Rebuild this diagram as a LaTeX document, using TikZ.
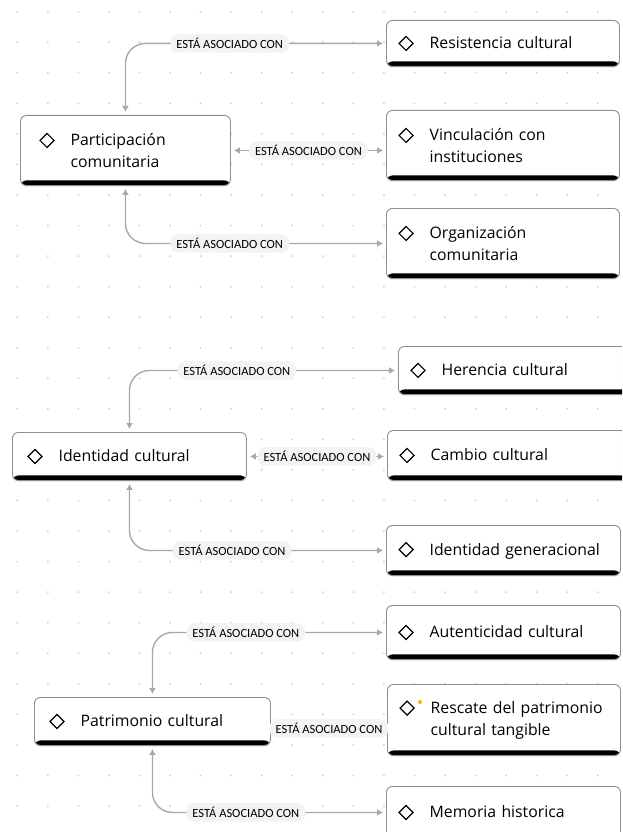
\documentclass[tikz,border=0pt]{standalone}
\usepackage{fontspec}
\setmainfont{Open Sans}
\newfontfamily\labelfont{Carlito}
\usetikzlibrary{arrows.meta, shadows}

\definecolor{dotgrey}{HTML}{D4D4D4}
\definecolor{linkgrey}{HTML}{A8A8A8}
\definecolor{edgegrey}{HTML}{8E8E8E}
\definecolor{pillgrey}{HTML}{F3F3F3}
\definecolor{markyellow}{HTML}{F2B705}

% small diamond icon in front of each concept
\newcommand{\dmd}{\tikz[baseline=-5.5pt]\draw[sharp corners, line width=1.2pt, line join=miter] (0pt,7pt) -- (7pt,0pt) -- (0pt,-7pt) -- (-7pt,0pt) -- cycle;}

\begin{document}
\begin{tikzpicture}[x=1pt, y=-1pt,
    concept/.style={draw=edgegrey, line width=0.9pt, fill=white, rounded corners=6pt,
      anchor=north west, align=left, inner xsep=#1, inner ysep=0pt,
      font=\fontsize{15.8}{22}\selectfont,
      drop shadow={opacity=0.15, shadow xshift=0pt, shadow yshift=-1.5pt},
      path picture={\fill[black] ([yshift=-1pt]path picture bounding box.south west)
        rectangle ([yshift=5pt]path picture bounding box.south east);}},
    concept/.default=12pt,
    link/.style={draw=linkgrey, line width=1.4pt, rounded corners=20pt,
      shorten <=3pt, shorten >=3pt},
    tips/.style={{Latex[length=6pt,width=7pt]}-{Latex[length=6pt,width=7pt]}},
    pill/.style={fill=pillgrey, rounded corners=8pt, inner xsep=6pt, inner ysep=4pt,
      text=black, font=\labelfont\fontsize{12.5}{13}\selectfont}]

    \path[use as bounding box] (0,0) rectangle (622,832);
    \clip (0,0) rectangle (622,832);

    % dotted background
    \foreach \i in {0,...,19}
      \foreach \j in {0,...,26}
        \fill[dotgrey] (17.3+30.55*\i, 11.7+30.55*\j) circle (1.1pt);

    % first group
    \node[concept=19pt, text width=172pt, minimum height=70pt] (pc) at (20,115)
      {\dmd\hspace{16pt}\parbox[t]{135pt}{Participación\\comunitaria}};
    \node[concept, text width=209pt, minimum height=46pt] (res) at (386,20)
      {\dmd\hspace{16pt}Resistencia cultural};
    \node[concept, text width=209pt, minimum height=70pt] (vin) at (386,110)
      {\dmd\hspace{16pt}\parbox[t]{170pt}{Vinculación con\\instituciones}};
    \node[concept, text width=209pt, minimum height=70pt] (org) at (386,208)
      {\dmd\hspace{16pt}\parbox[t]{170pt}{Organización\\comunitaria}};

    \draw[link, tips] (pc.north) |- node[pill, pos=0.7] {ESTÁ ASOCIADO CON} (res.west);
    \draw[link, tips] (pc.east) -- node[pill] {ESTÁ ASOCIADO CON} (pc.east -| vin.west);
    \draw[link, tips] (pc.south) |- node[pill, pos=0.7] {ESTÁ ASOCIADO CON} (org.west);

    % second group
    \node[concept=15pt, text width=204pt, minimum height=48pt] (id) at (12,432)
      {\dmd\hspace{16pt}Identidad cultural};
    \node[concept, text width=216pt, minimum height=48pt] (her) at (398,346)
      {\dmd\hspace{16pt}Herencia cultural};
    \node[concept, text width=216pt, minimum height=50pt] (cam) at (387,430)
      {\dmd\hspace{16pt}Cambio cultural};
    \node[concept, text width=210pt, minimum height=50pt] (idg) at (386,525)
      {\dmd\hspace{16pt}Identidad generacional};

    \draw[link, tips] (id.north) |- node[pill, pos=0.7] {ESTÁ ASOCIADO CON} (her.west);
    \draw[link, tips] (id.east) -- node[pill] {ESTÁ ASOCIADO CON} (id.east -| cam.west);
    \draw[link, tips] (id.south) |- node[pill, pos=0.7] {ESTÁ ASOCIADO CON} (idg.west);

    % third group
    \node[concept=15pt, text width=206pt, minimum height=48pt] (pat) at (34,697)
      {\dmd\hspace{16pt}Patrimonio cultural};
    \node[concept, text width=210pt, minimum height=54pt] (aut) at (386,605)
      {\dmd\hspace{16pt}Autenticidad cultural};
    \node[concept, text width=209pt, minimum height=71pt] (resc) at (387,684)
      {\dmd\hspace{16pt}\parbox[t]{175pt}{Rescate del patrimonio\\cultural tangible}};
    \node[concept, text width=210pt, minimum height=52pt] (mem) at (386,786)
      {\dmd\hspace{16pt}Memoria historica};
    \fill[markyellow] ([xshift=33pt,yshift=-18pt]resc.north west) circle (2pt);

    \draw[link, tips] (pat.north) |- node[pill, pos=0.7] {ESTÁ ASOCIADO CON} (aut.west);
    \draw[link] (pat.east) -- node[pill, yshift=-7pt] {ESTÁ ASOCIADO CON} (pat.east -| resc.west);
    \draw[link, tips] (pat.south) |- node[pill, pos=0.7] {ESTÁ ASOCIADO CON} (mem.west);
\end{tikzpicture}
\end{document}
